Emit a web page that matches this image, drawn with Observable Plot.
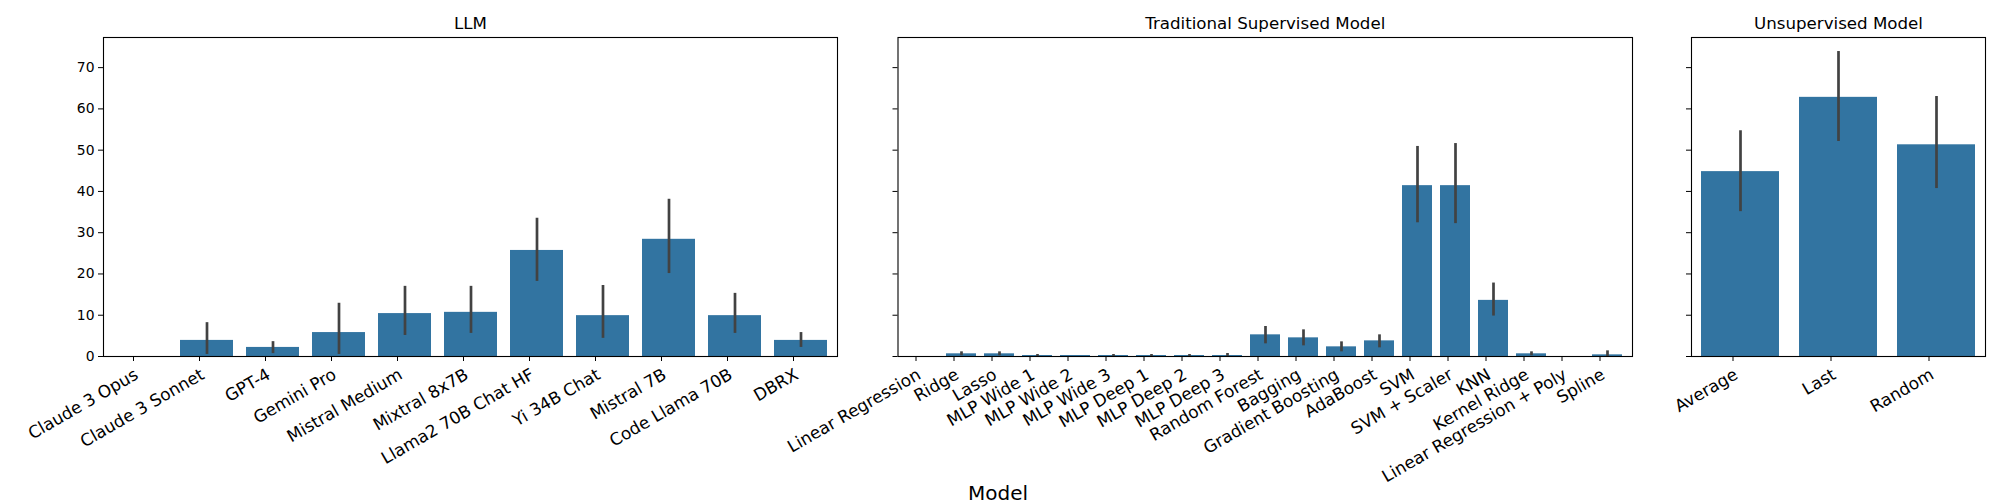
<!DOCTYPE html>
<html>
<head>
<meta charset="utf-8">
<script src="https://cdn.jsdelivr.net/npm/d3@7"></script>
<script src="https://cdn.jsdelivr.net/npm/@observablehq/plot@0.6"></script>
<style>
  body { margin: 0; background: white; }
  #wrap { position: relative; width: 2000px; height: 500px; overflow: hidden; background: white; font-family: "DejaVu Sans", sans-serif; }
  #xlabel { position: absolute; left: 0; width: 1996px; top: 480.5px; text-align: center; font-size: 20px; line-height: normal; color: black; }
</style>
</head>
<body>
<div id="wrap"><div id="xlabel">Model</div></div>
<script>
// ---- Data ----
const llmModels = ["Claude 3 Opus", "Claude 3 Sonnet", "GPT-4", "Gemini Pro", "Mistral Medium", "Mixtral 8x7B",
  "Llama2 70B Chat HF", "Yi 34B Chat", "Mistral 7B", "Code Llama 70B", "DBRX"];
const llmMean = [0, 3.9, 2.2, 5.8, 10.4, 10.7, 25.7, 9.9, 28.4, 9.9, 3.9];
const llmLow  = [0, 0.5, 0.7, 0.5, 5.1, 5.6, 18.2, 4.4, 20.1, 5.6, 2.2];
const llmHigh = [0, 8.2, 3.6, 12.9, 17.0, 17.0, 33.5, 17.2, 38.1, 15.3, 5.8];

const tradModels = ["Linear Regression", "Ridge", "Lasso", "MLP Wide 1", "MLP Wide 2", "MLP Wide 3",
  "MLP Deep 1", "MLP Deep 2", "MLP Deep 3", "Random Forest", "Bagging", "Gradient Boosting", "AdaBoost",
  "SVM", "SVM + Scaler", "KNN", "Kernel Ridge", "Linear Regression + Poly", "Spline"];
const tradMean = [0, 0.65, 0.65, 0.24, 0.24, 0.24, 0.24, 0.24, 0.24, 5.25, 4.52, 2.34, 3.79, 41.4, 41.4, 13.6, 0.65, 0, 0.4];
const tradLow  = [0, 0.16, 0.16, 0.0, 0.24, 0.0, 0.0, 0.0, 0.0, 3.07, 2.58, 1.13, 2.1, 32.4, 32.2, 9.8, 0.16, 0, 0];
const tradHigh = [0, 1.13, 1.13, 0.48, 0.24, 0.48, 0.48, 0.48, 0.73, 7.27, 6.46, 3.55, 5.25, 50.9, 51.6, 17.8, 1.13, 0, 1.37];

const unsupModels = ["Average", "Last", "Random"];
const unsupMean = [44.8, 62.8, 51.3];
const unsupLow  = [35.1, 52.1, 40.7];
const unsupHigh = [54.7, 73.9, 63.0];

const yTicks = [0, 10, 20, 30, 40, 50, 60, 70];
const yMax = 77.3;
const barColor = "#3274a1";
const errColor = "#424242";

function panel({title, models, mean, low, high, left, width, marginLeft, marginRight, showY}) {
  const rows = models.map((m, i) => ({model: m, mean: mean[i], low: low[i], high: high[i]}));
  const chart = Plot.plot({
    width, height: 500,
    marginTop: 37, marginBottom: 144, marginLeft, marginRight,
    style: {fontFamily: "DejaVu Sans", fontSize: "13.9px", color: "black", background: "transparent", overflow: "visible"},
    x: {domain: models, paddingInner: 0.2, paddingOuter: 0.1, label: null},
    y: {domain: [0, yMax], label: null},
    marks: [
      Plot.barY(rows, {x: "model", y: "mean", fill: barColor}),
      Plot.ruleX(rows.filter(d => d.high > d.low), {x: "model", y1: "low", y2: "high", stroke: errColor, strokeWidth: 2.7}),
      Plot.axisY({ticks: yTicks, tickSize: 5, tickPadding: 4, tickFormat: showY ? (d => String(d)) : (() => ""), label: null, fontSize: 13.9}),
      Plot.axisX({tickSize: 5, tickRotate: -30, tickPadding: 6, dx: -7.5, textAnchor: "end", lineAnchor: "top", fontSize: 16.9, label: null}),
      Plot.frame({stroke: "black", strokeWidth: 1.1}),
      Plot.text([title], {frameAnchor: "top", dy: -14, lineAnchor: "middle", fontSize: 16.67, fill: "black"})
    ]
  });
  chart.style.position = "absolute";
  chart.style.left = left + "px";
  chart.style.top = "0px";
  document.getElementById("wrap").appendChild(chart);
}

panel({title: "LLM", models: llmModels, mean: llmMean, low: llmLow, high: llmHigh,
  left: 0, width: 870, marginLeft: 103, marginRight: 33, showY: true});
panel({title: "Traditional Supervised Model", models: tradModels, mean: tradMean, low: tradLow, high: tradHigh,
  left: 740, width: 920, marginLeft: 157.5, marginRight: 28, showY: false});
panel({title: "Unsupervised Model", models: unsupModels, mean: unsupMean, low: unsupLow, high: unsupHigh,
  left: 1600, width: 400, marginLeft: 91, marginRight: 15, showY: false});
</script>
</body>
</html>
